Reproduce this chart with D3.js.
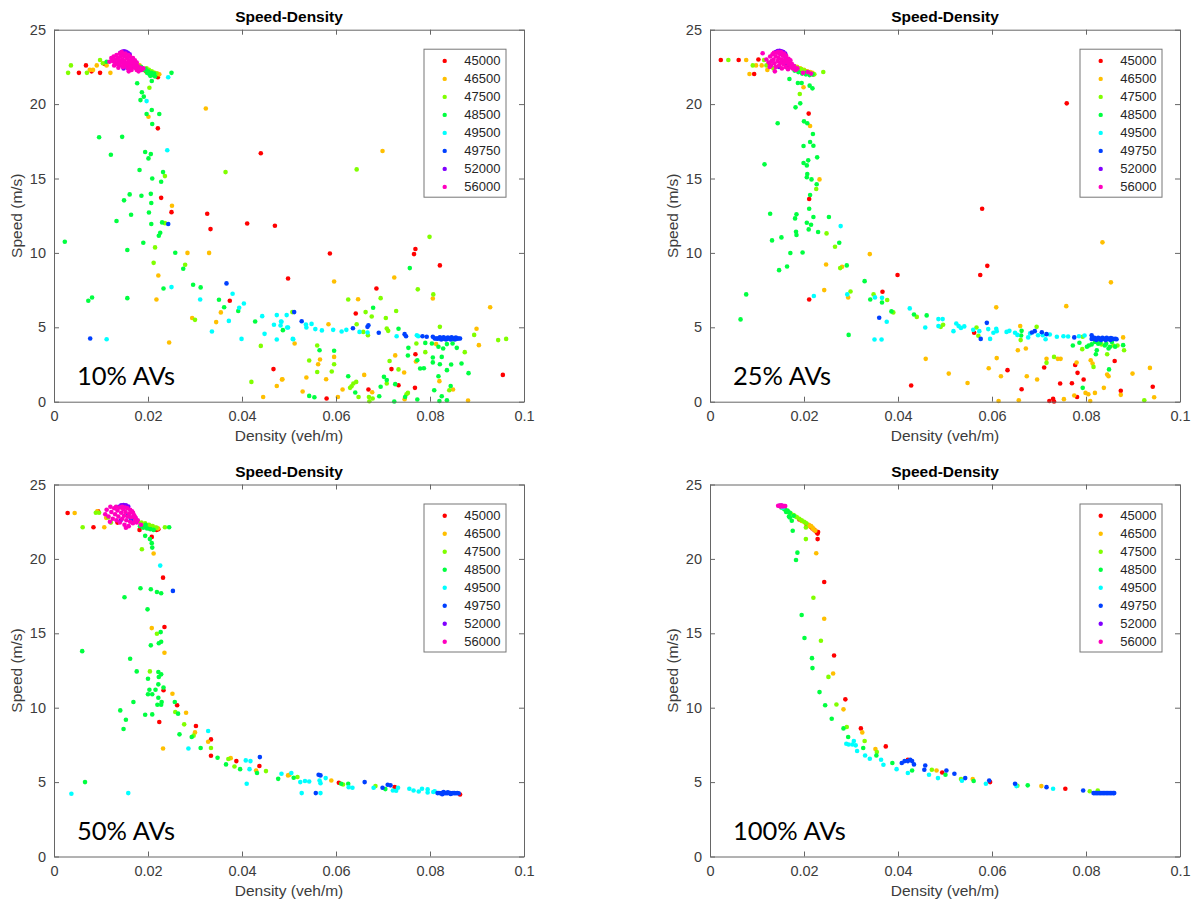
<!DOCTYPE html>
<html>
<head>
<meta charset="utf-8">
<script src="https://cdn.jsdelivr.net/npm/d3@7"></script>
<style>
  body { margin: 0; background: #fff; }
  text { font-family: 'Liberation Sans', Arial, sans-serif; }
</style>
</head>
<body>
<svg id="chart" width="1196" height="907"></svg>
<script>
'use strict';

// legend / series
var flows = ['45000', '46500', '47500', '48500', '49500', '49750', '52000', '56000'];
var colors = ['#ff0000', '#ffbf00', '#80ff00', '#00ff40', '#00ffff', '#0040ff', '#8000ff', '#ff00bf'];
var xTicks = [0, 0.02, 0.04, 0.06, 0.08, 0.1];
var yTicks = [0, 5, 10, 15, 20, 25];
var panelLabels = ['10% AVs', '25% AVs', '50% AVs', '100% AVs'];

// ---- 10% AVs : [density, speed]
var a10_45000 = [[0.0053,22.1],[0.0068,22.6],[0.008,22.2],[0.0098,22.1],[0.0108,22.7],[0.0196,22.2],[0.0203,22.15],[0.0211,22.0],[0.0216,21.95],[0.0221,21.8],
  [0.0221,18.37],[0.044,16.7],[0.0228,13.7],[0.025,12.74],[0.0326,12.63],[0.0333,11.6],[0.0411,11.98],[0.047,11.82],[0.0498,8.28],[0.0374,6.78],[0.0467,2.19],
  [0.0587,9.96],[0.0769,10.26],[0.0766,9.92],[0.0821,9.16],[0.0686,7.61],[0.0642,5.93],[0.0769,3.19],[0.0718,2.19],[0.0733,1.11],[0.0768,0.93],[0.0669,0.82],[0.058,0.22],[0.0955,1.8]];
var a10_46500 = [[0.0076,22.3],[0.0083,22.3],[0.0091,22.6],[0.012,22.1],[0.0112,22.6],[0.0182,22.6],[0.0193,22.3],[0.0199,22.25],[0.0206,22.15],[0.0214,22.1],[0.022,22.05],[0.0224,22.0],
  [0.0201,19.15],[0.0323,19.7],[0.0699,16.85],[0.0251,13.17],[0.0284,10.0],[0.033,10.0],[0.0222,8.48],[0.0218,6.87],[0.0355,6.0],[0.0294,5.62],[0.0345,5.35],[0.0512,3.91],[0.0245,3.98],[0.0485,1.49],[0.0474,1.06],[0.0445,0.32],
  [0.0596,8.08],[0.0724,8.35],[0.0806,6.94],[0.0647,6.89],[0.0928,6.35],[0.0584,5.21],[0.0899,4.9],[0.0904,3.8],[0.0881,0.08],[0.0813,3.87],[0.077,2.7],[0.082,1.38],[0.0849,0.82],[0.0746,0.17],[0.0745,1.96],[0.0726,3.11],
  [0.0677,0.64],[0.066,1.8],[0.0614,0.82],[0.0604,0.32],[0.0579,1.51],[0.0596,3.01],[0.0566,2.84],[0.0562,2.52],[0.0537,1.63],[0.0529,0.69],[0.0486,1.51]];
var a10_47500 = [[0.003,22.1],[0.0036,22.6],[0.007,22.1],[0.0098,22.96],[0.0104,22.75],[0.0178,22.6],[0.0186,22.45],[0.0192,22.35],[0.0197,22.4],[0.0202,22.3],[0.0208,22.2],[0.0212,22.1],[0.0218,22.05],
  [0.0203,21.1],[0.0365,15.43],[0.0236,15.16],[0.0644,15.61],[0.0236,12.0],[0.0215,10.37],[0.0212,9.33],[0.0279,9.2],[0.0507,6.02],[0.03,5.5],[0.044,3.75],[0.042,1.33],
  [0.0799,11.08],[0.0774,7.55],[0.0807,7.21],[0.0626,6.87],[0.0695,6.96],[0.0728,6.1],[0.0663,6.02],[0.0676,5.73],[0.0706,5.62],[0.0644,5.21],[0.0658,4.69],[0.0668,4.47],[0.0708,4.92],[0.0711,4.76],
  [0.0821,5.03],[0.0894,4.49],[0.0945,4.14],[0.0962,4.22],[0.0874,3.33],[0.0771,3.91],[0.079,3.33],[0.0841,0.77],[0.075,0.5],[0.0753,0.59],[0.0733,2.17],[0.0714,2.74],[0.0708,1.22],[0.067,0.32],
  [0.0671,0.03],[0.0678,0.22],[0.0648,0.32],[0.0637,1.22],[0.0633,1.04],[0.063,0.93],[0.0643,1.33],[0.0591,2.03],[0.0596,2.52],[0.056,3.78],[0.056,2.0],[0.0543,2.77]];
var a10_48500 = [[0.0185,22.5],[0.019,22.3],[0.0195,22.35],[0.02,22.2],[0.0203,22.0],[0.0207,22.1],[0.021,21.95],[0.0213,22.05],[0.0198,22.1],[0.0205,21.9],[0.0215,21.85],[0.0112,22.85],[0.025,22.1],
  [0.0177,21.4],[0.0208,21.55],[0.0187,20.8],[0.0191,20.5],[0.0184,20.27],[0.0208,19.6],[0.0197,19.33],[0.0224,19.33],[0.0209,18.66],[0.0096,17.77],[0.0145,17.8],[0.0194,16.78],[0.0206,16.64],[0.0121,16.6],
  [0.0201,16.35],[0.0182,15.57],[0.0232,15.43],[0.0209,15.0],[0.0228,14.78],[0.0161,13.93],[0.0186,13.84],[0.0206,13.97],[0.0149,13.53],[0.0207,13.35],[0.0202,12.72],[0.0164,12.56],[0.0133,12.14],[0.0207,11.94],
  [0.023,12.05],[0.0226,11.35],[0.0223,11.15],[0.0023,10.75],[0.019,10.68],[0.0156,10.19],[0.0258,10.01],[0.0275,8.93],[0.0296,7.86],[0.0312,7.68],[0.0233,7.61],[0.0351,6.85],[0.0362,6.35],[0.0392,6.1],
  [0.0073,6.78],[0.0081,7.0],[0.0156,6.96],[0.0428,5.39],[0.0487,4.81],
  [0.0757,8.98],[0.0679,6.31],[0.0733,4.9],[0.0867,2.57],[0.0882,1.92],[0.0754,3.62],[0.0753,3.1],[0.079,3.95],[0.0804,3.91],[0.0818,3.69],[0.0836,3.87],[0.0848,3.91],[0.0857,3.62],[0.0828,3.58],
  [0.0773,2.79],[0.0779,2.23],[0.0787,2.25],[0.0806,2.97],[0.0806,2.64],[0.0825,3.01],[0.0821,2.52],[0.0836,2.12],[0.0845,2.5],[0.0818,1.71],[0.0844,1.06],[0.0809,0.77],[0.0825,0.37],[0.0836,0.1],
  [0.082,0.05],[0.0773,0.15],[0.0747,0.32],[0.0702,1.67],[0.0708,1.45],[0.0726,1.18],[0.0695,1.0],[0.0724,0.01],[0.0692,0.37],[0.0641,0.62],[0.0626,1.71],[0.0596,3.42],[0.0565,3.46],[0.0543,0.39],[0.0554,0.3]];
var a10_49500 = [[0.0165,22.7],[0.017,22.55],[0.0176,22.5],[0.0243,21.8],
  [0.0197,20.2],[0.0241,16.9],[0.025,7.7],[0.038,7.25],[0.0311,6.87],[0.0404,6.6],[0.0394,6.31],[0.0495,5.82],[0.0474,5.82],[0.0443,5.75],[0.0372,5.43],[0.0468,5.17],[0.0483,5.39],[0.0482,5.12],
  [0.0498,4.99],[0.0448,4.56],[0.0336,4.72],[0.0399,4.22],[0.0474,4.18],[0.0508,4.22],[0.0112,4.2],
  [0.0536,5.19],[0.0548,5.23],[0.0537,4.99],[0.0556,4.88],[0.057,4.79],[0.0594,4.83],[0.0612,4.72],[0.0622,4.83],[0.065,4.69],[0.0667,4.65],[0.0729,4.4],[0.0772,4.47],[0.0775,4.4],[0.0509,4.2],[0.0496,4.99],[0.0484,5.37]];
var a10_49750 = [[0.0162,22.76],[0.0166,22.9],[0.0158,22.45],[0.0168,22.55],
  [0.0243,11.94],[0.0367,7.95],[0.0511,6.02],[0.0077,4.25],[0.0527,5.41],[0.0636,4.94],[0.0667,5.03],[0.0669,5.14],[0.0691,4.63],[0.0746,4.54],[0.0749,4.4],[0.0784,4.4],[0.0793,4.36],[0.0806,4.36],
  [0.081,4.25],[0.0813,4.25],[0.0816,4.24],[0.0819,4.25],[0.0822,4.26],[0.0825,4.25],[0.0828,4.24],[0.0831,4.25],[0.0834,4.25],[0.0837,4.24],[0.084,4.25],[0.0843,4.26],[0.0846,4.25],[0.0849,4.24],
  [0.0852,4.25],[0.0855,4.25],[0.0858,4.24],[0.0861,4.25],[0.0864,4.25],[0.0821,4.32],[0.0829,4.32],[0.0838,4.31],[0.0846,4.32],[0.0855,4.31],[0.0824,4.18],[0.0834,4.18],[0.0844,4.18],[0.0853,4.18]];
var a10_52000 = [[0.0141,23.45],[0.0145,23.52],[0.0149,23.55],[0.0153,23.52],[0.0157,23.45],[0.0161,23.35],[0.015,22.6],[0.0148,22.4]];
var a10_56000 = [[0.0122,23.1],[0.0125,22.9],[0.0127,23.2],[0.013,22.8],[0.013,23.0],[0.0133,23.3],[0.0135,22.7],[0.0136,23.1],[0.0138,22.9],[0.014,23.4],[0.014,22.6],[0.0142,23.2],[0.0143,22.8],
  [0.0145,23.0],[0.0146,23.4],[0.0147,22.5],[0.0148,22.7],[0.015,23.2],[0.015,22.9],[0.0152,23.4],[0.0153,22.6],[0.0155,23.1],[0.0156,22.8],[0.0157,22.4],[0.0158,23.3],[0.016,22.95],[0.0161,22.6],
  [0.0162,23.2],[0.0164,22.8],[0.0165,22.3],[0.0166,23.0],[0.0168,22.6],[0.017,22.85],[0.0172,22.45],[0.0174,22.7],[0.0176,22.3],[0.0178,22.55],[0.018,22.2],[0.0183,22.45],[0.0186,22.3],[0.019,22.4],
  [0.0128,22.6],[0.0137,22.45],[0.0144,23.5],[0.0159,22.2],[0.0118,22.85],[0.0168,23.1],[0.0172,22.95],[0.0176,22.8],[0.0149,23.3],[0.0154,22.7],[0.0163,22.5]];

// ---- 25% AVs
var a25_45000 = [[0.0023,22.96],[0.0061,22.96],[0.0103,23.0],[0.0094,22.02],[0.0195,22.3],[0.0203,22.2],[0.021,22.1],[0.0216,22.05],[0.022,22.0],[0.0125,22.75],
  [0.021,19.36],[0.0211,13.62],[0.0759,20.05],[0.0211,6.87],[0.0399,8.51],[0.0367,7.39],[0.0428,1.09],
  [0.0579,12.97],[0.059,9.13],[0.0575,8.51],[0.0562,4.63],[0.0861,2.74],[0.0874,0.73],[0.0942,1.0],[0.0782,1.94],[0.0777,2.47],[0.0795,1.49],[0.0781,0.32],[0.077,1.24],[0.0745,1.22],
  [0.073,0.19],[0.0732,0.01],[0.0722,0.05],[0.0711,2.3],[0.0663,0.84],[0.0633,2.12]];
var a25_46500 = [[0.0077,22.96],[0.0098,22.6],[0.011,22.6],[0.0084,22.02],[0.0122,22.3],[0.0185,22.5],[0.0192,22.4],[0.02,22.3],[0.0207,22.2],[0.0213,22.15],[0.0218,22.1],
  [0.0199,21.13],[0.0213,18.53],[0.0233,14.94],[0.034,9.92],[0.0247,9.22],[0.0281,9.07],[0.0243,7.5],[0.0294,7.01],[0.0459,2.88],
  [0.0835,10.71],[0.0853,8.02],[0.0609,6.34],[0.0758,6.42],[0.066,5.08],[0.0655,3.46],[0.0672,3.58],[0.0879,4.32],[0.081,2.79],[0.0814,2.57],[0.0845,1.83],[0.0848,1.71],[0.0838,0.93],[0.0819,0.59],
  [0.0874,0.46],[0.0899,1.89],[0.0936,2.27],[0.0945,0.3],[0.0799,0.59],[0.0805,0.5],[0.0809,0.05],[0.0775,0.42],[0.078,2.63],[0.0753,0.17],[0.074,2.88],[0.0746,2.88],[0.0716,2.88],[0.0696,1.49],
  [0.0674,1.71],[0.0657,0.1],[0.0619,1.71],[0.061,2.93],[0.0593,2.25],[0.0614,0.05],[0.0548,1.26],[0.0508,1.89]];
var a25_47500 = [[0.0039,22.96],[0.0115,22.96],[0.0091,22.6],[0.012,22.6],[0.0135,22.4],[0.0178,22.55],[0.0186,22.45],[0.0194,22.35],[0.0201,22.25],[0.0209,22.15],[0.0215,22.05],[0.0222,22.0],[0.0241,22.16],
  [0.0191,20.68],[0.0226,14.29],[0.0248,11.31],[0.0266,10.41],[0.0277,8.98],[0.0299,7.41],[0.0348,7.21],[0.0377,6.83],[0.039,6.0],[0.044,5.7],
  [0.0491,5.03],[0.0496,5.17],[0.0567,4.99],[0.0571,4.43],[0.0695,5.03],[0.0661,4.14],[0.0793,4.36],[0.0732,3.01],[0.0716,2.61],[0.0792,3.53],[0.0833,3.85],[0.0845,3.19],[0.0858,3.78],[0.0867,3.78],
  [0.0881,3.46],[0.0816,2.34],[0.0924,0.1]];
var a25_48500 = [[0.018,22.25],[0.0188,22.15],[0.0196,22.05],[0.0204,22.0],[0.0212,21.95],[0.0218,22.0],[0.0205,22.1],
  [0.0169,21.69],[0.0187,21.42],[0.0195,21.42],[0.0212,21.24],[0.0218,21.06],[0.0192,20.05],[0.0182,19.78],[0.02,18.84],[0.0207,18.71],[0.0144,18.71],[0.0219,17.99],[0.0213,17.45],[0.022,17.2],
  [0.0199,17.18],[0.0228,16.42],[0.0209,16.22],[0.0199,16.04],[0.0116,15.95],[0.0206,15.88],[0.0207,15.3],[0.0206,15.08],[0.0216,14.94],[0.0227,14.61],[0.0213,13.89],[0.0211,12.97],[0.0128,12.63],
  [0.0184,12.59],[0.0181,12.32],[0.022,12.41],[0.0253,12.41],[0.0206,12.03],[0.0215,11.89],[0.021,11.58],[0.023,11.4],[0.0183,11.42],[0.0184,11.2],[0.0132,10.84],[0.0152,11.04],[0.0275,10.68],
  [0.0171,9.99],[0.0197,10.03],[0.0164,9.09],[0.0147,8.84],[0.0291,9.16],[0.0329,8.1],[0.0077,7.21],[0.0341,6.87],[0.0366,6.67],[0.0386,6.07],[0.0434,5.86],[0.0461,5.8],[0.0065,5.53],[0.0295,4.49],
  [0.0663,4.76],[0.0662,4.45],[0.0772,3.78],[0.0786,3.96],[0.0802,3.69],[0.0806,3.78],[0.0819,4.02],[0.0823,3.46],[0.0821,3.19],[0.083,3.96],[0.084,3.78],[0.0848,3.58],[0.0851,3.69],[0.0879,3.8],
  [0.0855,4.02],[0.0849,2.17],[0.0793,0.93],[0.0826,3.9],[0.0812,3.85],[0.0843,3.9],[0.0862,3.7]];
var a25_49500 = [[0.0165,22.7],[0.0172,22.6],[0.0178,22.5],
  [0.0278,11.8],[0.0221,7.1],[0.0292,7.21],[0.0351,7.01],[0.0366,6.98],[0.0425,6.27],[0.0376,5.37],[0.0486,5.55],[0.0486,5.08],[0.0458,4.99],[0.035,4.18],[0.0365,4.18],
  [0.0495,5.55],[0.0518,4.74],[0.0524,5.26],[0.0529,5.08],[0.0534,4.96],[0.0541,5.06],[0.056,4.83],[0.0573,4.74],[0.0592,4.88],[0.0596,4.22],[0.0603,4.63],[0.0609,4.9],[0.061,4.74],[0.0631,4.69],
  [0.0637,4.76],[0.0649,4.63],[0.0654,4.49],[0.0677,4.32],[0.0681,4.59],[0.0698,4.47],[0.0708,4.47],[0.0714,4.2],[0.0723,4.52],[0.0738,4.36],[0.0752,4.4],[0.0762,4.38],[0.0785,4.4],[0.0797,4.45]];
var a25_49750 = [[0.0158,22.85],[0.0163,22.7],[0.0168,22.6],
  [0.036,5.64],[0.0589,5.3],[0.0576,4.22],[0.0685,4.65],[0.0691,4.74],[0.0706,4.67],[0.0716,4.54],[0.0775,4.32],[0.0812,4.47],
  [0.0812,4.22],[0.0815,4.23],[0.0818,4.22],[0.0821,4.21],[0.0824,4.22],[0.0827,4.23],[0.083,4.22],[0.0833,4.22],[0.0836,4.21],[0.0839,4.22],[0.0842,4.23],[0.0845,4.22],[0.0848,4.22],[0.0851,4.21],
  [0.0854,4.22],[0.0857,4.22],[0.086,4.21],[0.0863,4.22],[0.0865,4.2],[0.0818,4.3],[0.0826,4.29],[0.0835,4.3],[0.0844,4.29],[0.0853,4.28],[0.0822,4.15],[0.0832,4.15],[0.0842,4.14],[0.0852,4.15]];
var a25_52000 = [[0.014,23.5],[0.0144,23.56],[0.0148,23.58],[0.0152,23.55],[0.0156,23.5],[0.016,23.4],[0.0147,22.5]];
var a25_56000 = [[0.0112,23.42],[0.012,23.0],[0.0125,22.8],[0.0128,23.2],[0.013,22.6],[0.0133,23.35],[0.0135,23.0],[0.0137,22.75],[0.014,23.2],[0.014,22.5],[0.0142,23.45],[0.0144,22.9],[0.0146,23.1],
  [0.0147,22.6],[0.0149,23.35],[0.015,22.8],[0.0152,23.0],[0.0153,22.4],[0.0155,23.25],[0.0156,22.7],[0.0158,22.9],[0.016,23.1],[0.0161,22.5],[0.0163,22.8],[0.0165,23.0],[0.0166,22.35],[0.0168,22.65],
  [0.017,22.85],[0.0172,22.5],[0.0174,22.7],[0.0176,22.4],[0.0179,22.55],[0.0182,22.3],[0.0186,22.4],[0.0138,22.2],[0.0131,22.9],[0.0127,22.5],[0.0157,23.4],[0.0145,23.5],[0.0198,22.1],[0.0208,22.15],[0.0215,22.05],
  [0.0162,23.25],[0.0167,23.05],[0.0171,22.95],[0.0136,23.45],[0.0151,23.5]];

// ---- 50% AVs
var a50_45000 = [[0.0029,23.08],[0.0084,22.13],[0.0094,23.2],[0.0135,22.44],[0.0196,22.15],[0.0204,22.05],[0.0212,22.0],[0.0218,21.95],[0.0222,22.0],[0.0182,21.95],
  [0.0208,21.48],[0.0232,18.74],[0.0235,15.42],[0.0233,11.17],[0.0262,10.16],[0.0224,9.04],[0.0302,8.77],[0.0334,7.87],[0.0334,6.77],[0.0388,6.41],[0.0437,6.08],[0.0606,4.96],[0.0725,4.66],[0.0864,4.17]];
var a50_46500 = [[0.0044,23.08],[0.0107,22.13],[0.0092,23.2],[0.0111,22.76],[0.0175,22.5],[0.0185,22.4],[0.0192,22.3],[0.02,22.25],[0.0208,22.2],[0.0215,22.1],[0.0221,22.05],
  [0.0212,20.36],[0.0208,15.35],[0.0235,13.69],[0.0252,10.94],[0.0281,9.66],[0.03,8.34],[0.0328,7.71],[0.0232,7.26],[0.0376,6.61],[0.043,5.78],[0.0498,5.45],[0.0501,5.49],[0.059,5.11]];
var a50_47500 = [[0.0061,22.13],[0.0089,23.1],[0.0096,23.1],[0.0115,22.78],[0.0121,22.44],[0.0178,22.55],[0.0186,22.45],[0.0194,22.4],[0.0202,22.3],[0.021,22.2],[0.0218,22.1],[0.0236,22.13],
  [0.0187,20.65],[0.0219,14.97],[0.0204,12.44],[0.0258,9.71],[0.0277,8.88],[0.0297,8.12],[0.0334,7.29],[0.0371,6.55],[0.0384,6.05],[0.0451,5.74],[0.0518,5.34],[0.0615,4.84],[0.0684,4.73]];
var a50_48500 = [[0.0183,22.2],[0.019,22.1],[0.0198,22.05],[0.0205,22.0],[0.0212,21.95],[0.0245,22.13],[0.0195,22.3],
  [0.0194,21.55],[0.0204,21.33],[0.0208,21.06],[0.0209,20.76],[0.0184,18.03],[0.0206,17.96],[0.0219,17.78],[0.0228,17.69],[0.015,17.42],[0.0199,16.61],[0.0227,15.08],[0.0228,14.43],[0.0223,14.33],
  [0.0206,14.19],[0.006,13.8],[0.0162,13.29],[0.0176,12.44],[0.0222,12.4],[0.0228,12.24],[0.02,11.95],[0.0223,12.06],[0.0222,11.57],[0.0203,11.21],[0.0216,11.21],[0.0233,11.35],[0.02,10.9],
  [0.0209,10.9],[0.0222,10.67],[0.0229,10.38],[0.0228,10.2],[0.022,10.2],[0.0169,10.38],[0.0141,9.82],[0.0257,10.38],[0.0264,9.6],[0.0194,9.53],[0.0209,9.55],[0.0153,9.19],[0.0148,8.57],[0.0267,8.21],
  [0.0293,8.03],[0.0312,7.29],[0.0348,6.64],[0.0366,6.19],[0.0396,5.87],[0.0432,5.61],[0.0477,5.22],[0.051,5.29],[0.0611,4.89],[0.0626,4.89],[0.0705,4.53],[0.0066,5.0]];
var a50_49500 = [[0.0166,22.7],[0.0172,22.55],
  [0.0226,19.55],[0.0328,8.43],[0.0286,7.26],[0.0408,6.46],[0.0418,6.41],[0.0416,5.87],[0.041,4.89],[0.0484,5.56],[0.0505,5.61],[0.0524,5.0],[0.0534,5.07],[0.0543,5.04],[0.0527,4.26],[0.0567,4.26],
  [0.0565,5.11],[0.0567,4.93],[0.0578,5.27],[0.0627,4.66],[0.0635,4.62],[0.068,4.62],[0.0721,4.44],[0.0728,4.42],[0.0732,4.62],[0.0756,4.55],[0.0765,4.44],[0.0776,4.37],[0.0783,4.55],[0.0795,4.51],
  [0.0795,4.3],[0.0807,4.33],[0.081,4.39],[0.0037,4.22],[0.0158,4.26]];
var a50_49750 = [[0.0158,22.95],[0.0163,22.75],[0.0167,22.6],
  [0.0253,17.85],[0.0438,6.68],[0.0557,4.26],[0.0563,5.49],[0.0567,5.45],[0.0661,5.0],[0.0699,4.62],[0.071,4.82],[0.0716,4.78],
  [0.0816,4.26],[0.0819,4.27],[0.0822,4.25],[0.0825,4.26],[0.0828,4.27],[0.0831,4.26],[0.0834,4.25],[0.0837,4.26],[0.084,4.27],[0.0843,4.26],[0.0846,4.25],[0.0849,4.26],[0.0852,4.26],[0.0855,4.25],
  [0.0858,4.26],[0.0861,4.25],[0.0829,4.33],[0.0838,4.32],[0.0826,4.19],[0.0844,4.2]];
var a50_52000 = [[0.0138,23.5],[0.0143,23.6],[0.0148,23.62],[0.0153,23.6],[0.0158,23.52],[0.0142,22.6]];
var a50_56000 = [[0.0109,23.0],[0.0112,23.3],[0.0116,22.85],[0.012,23.5],[0.0122,23.15],[0.0125,22.7],[0.0128,23.4],[0.013,23.0],[0.0133,22.6],[0.0135,23.25],[0.0137,22.85],[0.014,23.45],[0.014,22.45],
  [0.0143,23.1],[0.0145,22.7],[0.0147,23.35],[0.0149,22.9],[0.015,22.3],[0.0152,23.15],[0.0154,22.6],[0.0156,23.4],[0.0157,22.85],[0.0159,22.2],[0.016,23.05],[0.0162,22.5],[0.0164,22.8],[0.0166,23.2],
  [0.0168,22.4],[0.017,22.95],[0.0172,22.6],[0.0174,22.75],[0.0176,22.45],[0.0178,22.6],[0.0153,22.1],[0.0185,22.3],[0.0132,23.5],[0.0119,22.5],
  [0.0162,23.3],[0.0168,23.1],[0.0172,22.85],[0.0145,23.5],[0.0151,23.45]];

// ---- 100% AVs
var a100_45000 = [[0.019,22.65],[0.0205,22.35],[0.021,22.25],[0.0215,22.15],[0.0218,22.05],[0.0222,21.95],[0.0225,21.85],[0.0228,21.75],[0.0229,21.7],[0.023,21.8],
  [0.0229,21.33],[0.0243,18.45],[0.0264,13.51],[0.0288,10.56],[0.0321,8.61],[0.0374,7.4],[0.0421,6.5],[0.0494,5.65],[0.0596,5.0],[0.0756,4.55]];
var a100_46500 = [[0.0195,22.55],[0.0202,22.45],[0.021,22.3],[0.0212,22.2],[0.0215,22.2],[0.0218,22.1],[0.022,22.0],[0.0224,21.9],
  [0.0226,20.38],[0.0243,15.98],[0.0262,12.3],[0.0284,9.89],[0.0324,8.34],[0.0352,7.22],[0.0482,5.78],[0.0559,5.2],[0.0705,4.73]];
var a100_47500 = [[0.0165,23.2],[0.0168,23.12],[0.0172,23.05],[0.0178,22.95],[0.0182,22.85],[0.0185,22.8],[0.019,22.7],[0.0195,22.6],[0.02,22.5],[0.0205,22.4],
  [0.0204,21.33],[0.0204,22.11],[0.022,17.39],[0.0236,14.5],[0.0252,12.07],[0.0269,10.22],[0.0291,8.7],[0.0329,7.76],[0.0355,7.02],[0.0472,5.83],[0.0534,5.2],[0.0654,4.75],[0.0808,4.39],[0.0825,4.44]];
var a100_48500 = [[0.0152,23.45],[0.0156,23.4],[0.0158,23.35],[0.016,23.3],[0.0162,23.16],[0.0165,23.25],[0.017,23.1],[0.0168,22.85],[0.0178,22.9],[0.017,22.78],[0.0174,22.56],
  [0.0176,21.89],[0.0186,20.42],[0.0183,19.93],[0.0195,16.23],[0.0201,14.68],[0.0217,13.33],[0.0218,12.66],[0.0233,11.05],[0.0245,10.16],[0.0259,9.26],[0.0284,8.61],[0.0294,8.03],[0.0326,7.29],
  [0.0354,6.79],[0.0388,6.28],[0.043,5.78],[0.0501,5.49],[0.0561,5.07],[0.0676,4.78]];
var a100_49500 = [[0.0155,23.45],[0.029,7.58],[0.0295,7.53],[0.0303,7.53],[0.0306,7.76],[0.031,7.47],[0.0313,7.09],[0.033,6.79],[0.034,6.57],[0.0364,6.5],[0.0369,6.17],[0.0397,5.87],[0.0421,5.61],
  [0.0466,5.49],[0.0485,5.27],[0.0536,5.09],[0.0587,4.89],[0.0652,4.73],[0.073,4.55]];
var a100_49750 = [[0.0408,6.28],[0.0414,6.41],[0.0421,6.41],[0.0426,6.5],[0.043,6.41],[0.0434,6.19],[0.0456,5.83],[0.0458,6.12],[0.0503,5.78],[0.052,5.56],[0.0543,5.27],[0.0594,5.11],[0.0649,4.89],
  [0.0716,4.66],[0.0794,4.44],
  [0.0816,4.26],[0.0819,4.26],[0.0822,4.26],[0.0825,4.26],[0.0828,4.26],[0.0831,4.26],[0.0834,4.26],[0.0837,4.26],[0.084,4.26],[0.0843,4.26],[0.0846,4.26],[0.0849,4.26],[0.0852,4.26],[0.0855,4.26],[0.0858,4.26],[0.086,4.26]];
var a100_52000 = [[0.0148,23.57],[0.0152,23.58]];
var a100_56000 = [[0.0145,23.57],[0.0148,23.57],[0.0151,23.58],[0.0153,23.57],[0.0156,23.56],[0.0158,23.56],[0.016,23.55],[0.015,23.52],[0.0155,23.53]];

var panelSeries = [
  [a10_45000, a10_46500, a10_47500, a10_48500, a10_49500, a10_49750, a10_52000, a10_56000],
  [a25_45000, a25_46500, a25_47500, a25_48500, a25_49500, a25_49750, a25_52000, a25_56000],
  [a50_45000, a50_46500, a50_47500, a50_48500, a50_49500, a50_49750, a50_52000, a50_56000],
  [a100_45000, a100_46500, a100_47500, a100_48500, a100_49500, a100_49750, a100_52000, a100_56000]
];

var svg = d3.select('#chart');
var W = 470, H = 372;
var origins = [[54, 29.7], [710, 29.7], [54, 484.5], [710, 484.5]];

var x = d3.scaleLinear().domain([0, 0.1]).range([0, W]);
var y = d3.scaleLinear().domain([0, 25]).range([H, 0]);

function drawPanel(i) {
  var g = svg.append('g')
    .attr('transform', 'translate(' + origins[i][0] + ',' + origins[i][1] + ')');

  g.append('rect')
    .attr('width', W).attr('height', H)
    .attr('fill', '#fff');

  // points, first series underneath
  panelSeries[i].forEach(function (pts, k) {
    g.append('g')
      .selectAll('circle')
      .data(pts)
      .enter()
      .append('circle')
      .attr('cx', function (d) { return x(d[0]); })
      .attr('cy', function (d) { return y(d[1]); })
      .attr('r', 2.3)
      .attr('fill', colors[k]);
  });

  // axes, ticks inside like matlab
  var xb = g.append('g').attr('transform', 'translate(0,' + H + ')')
    .call(d3.axisBottom(x).tickValues(xTicks).tickFormat(function (d) { return d; })
      .tickSizeInner(-5).tickSizeOuter(0).tickPadding(9));
  var yl = g.append('g')
    .call(d3.axisLeft(y).tickValues(yTicks).tickSizeInner(-5).tickSizeOuter(0).tickPadding(8));
  g.append('g')
    .call(d3.axisTop(x).tickValues(xTicks).tickFormat('').tickSizeInner(-5).tickSizeOuter(0));
  g.append('g').attr('transform', 'translate(' + W + ',0)')
    .call(d3.axisRight(y).tickValues(yTicks).tickFormat('').tickSizeInner(-5).tickSizeOuter(0));

  g.selectAll('.domain').attr('stroke', '#666');
  g.selectAll('.tick line').attr('stroke', '#666');
  [xb, yl].forEach(function (a) {
    a.selectAll('text')
      .attr('font-size', 14.5)
      .attr('fill', '#3c3c3c')
      .style('font-family', "'Liberation Sans', Arial, sans-serif");
  });

  g.append('text')
    .attr('x', W / 2).attr('y', -8)
    .attr('text-anchor', 'middle')
    .attr('font-size', 15.5).attr('font-weight', 'bold')
    .attr('fill', '#000')
    .text('Speed-Density');

  g.append('text')
    .attr('x', W / 2).attr('y', H + 39)
    .attr('text-anchor', 'middle')
    .attr('font-size', 15.5).attr('fill', '#3c3c3c')
    .text('Density (veh/m)');

  g.append('text')
    .attr('transform', 'translate(-32,' + (H / 2) + ') rotate(-90)')
    .attr('text-anchor', 'middle')
    .attr('font-size', 15.5).attr('fill', '#3c3c3c')
    .text('Speed (m/s)');

  // legend
  var lg = g.append('g').attr('transform', 'translate(' + (W - 100) + ',19.5)');
  lg.append('rect')
    .attr('width', 82).attr('height', 148)
    .attr('fill', '#fff').attr('stroke', '#777').attr('stroke-width', 1);
  flows.forEach(function (f, k) {
    var row = lg.append('g').attr('transform', 'translate(0,' + (11.7 + k * 18.0) + ')');
    row.append('circle').attr('cx', 20.7).attr('cy', 0).attr('r', 2.2).attr('fill', colors[k]);
    row.append('text')
      .attr('x', 76.5).attr('y', 0).attr('dy', '0.35em')
      .attr('text-anchor', 'end')
      .attr('font-size', 13).attr('fill', '#262626')
      .text(f);
  });

  // big annotation
  g.append('text')
    .attr('x', 23).attr('y', H - 16.5)
    .style('font-family', "Lato, 'Open Sans', sans-serif")
    .attr('font-size', 25.5).attr('fill', '#000')
    .text(panelLabels[i]);
}

for (var i = 0; i < 4; i++) drawPanel(i);
</script>
</body>
</html>
